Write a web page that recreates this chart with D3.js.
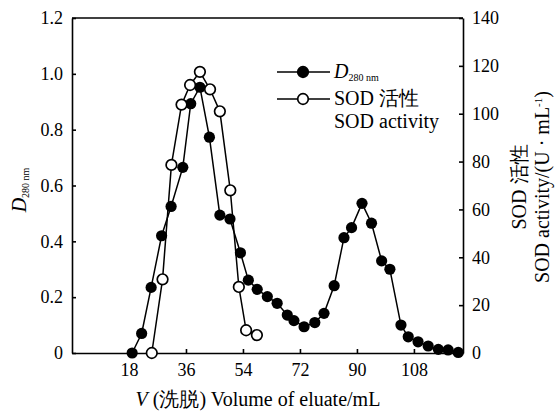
<!DOCTYPE html>
<html>
<head>
<meta charset="utf-8">
<script src="https://cdn.jsdelivr.net/npm/d3@7"></script>
<style>
  body { margin: 0; background: #fff; }
  svg text { font-family: "Liberation Serif", "Times New Roman", serif; fill: #000; }
</style>
</head>
<body>
<svg width="555" height="413"></svg>
<script>
// data
const volD280 = [19, 22, 25, 28.3, 31.3, 35, 37.5, 40.4, 43.4, 46.7, 49.9, 53.2, 55.7, 58.5, 61.7, 64.8, 68, 70.1,
  73.3, 76.7, 79.6, 82.8, 85.9, 88.3, 91.6, 94.6, 97.8, 100.4, 103.9, 106.2, 109.3, 112.5, 115.7, 118.8, 122];
const d280 = [0, 0.07, 0.235, 0.42, 0.525, 0.665, 0.893, 0.952, 0.773, 0.494, 0.48, 0.359, 0.261, 0.228, 0.202, 0.178, 0.136, 0.116,
  0.094, 0.109, 0.142, 0.241, 0.413, 0.449, 0.536, 0.465, 0.33, 0.30, 0.10, 0.058, 0.040, 0.025, 0.013, 0.011, 0.002];

const volSOD = [25.2, 28.6, 31.4, 34.6, 37.3, 40.4, 43.6, 46.7, 50, 52.7, 55, 58.4];
const sod = [0, 30.8, 78.6, 103.8, 112, 117.5, 110.2, 101, 68, 27.6, 9.5, 7.5];

const xTicks = [18, 36, 54, 72, 90, 108];
const leftTicks = [0, 0.2, 0.4, 0.6, 0.8, 1.0, 1.2];
const rightTicks = [0, 20, 40, 60, 80, 100, 120, 140];

const svg = d3.select('svg');
const mLeft = 72, mRight = 463, mTop = 18, mBottom = 353;

const x = d3.scaleLinear().domain([0, 123.5]).range([mLeft, mRight]);
const yL = d3.scaleLinear().domain([0, 1.2]).range([mBottom, mTop]);
const yR = d3.scaleLinear().domain([0, 140]).range([mBottom, mTop]);

//axes, ticks pointing inside the box
const fmtL = d => d === 0 ? '0' : d3.format('.1f')(d);

const gx = svg.append('g')
    .attr('transform', `translate(0,${mBottom})`)
    .call(d3.axisBottom(x).tickValues(xTicks).tickSizeInner(-4).tickSizeOuter(0).tickPadding(10));

const gl = svg.append('g')
    .attr('transform', `translate(${mLeft},0)`)
    .call(d3.axisLeft(yL).tickValues(leftTicks).tickFormat(fmtL).tickSizeInner(-4).tickSizeOuter(0).tickPadding(9));

const gr = svg.append('g')
    .attr('transform', `translate(${mRight},0)`)
    .call(d3.axisRight(yR).tickValues(rightTicks).tickSizeInner(-4).tickSizeOuter(0).tickPadding(9));

[gx, gl, gr].forEach(g => {
    g.attr('font-family', null);
    g.selectAll('path, line').attr('stroke', '#000').attr('stroke-width', 1.6);
    g.selectAll('text').style('font-size', '18px').style('font-family', '"Liberation Serif", serif');
});

//top border of the frame
svg.append('line')
    .attr('x1', mLeft).attr('x2', mRight)
    .attr('y1', mTop).attr('y2', mTop)
    .attr('stroke', '#000').attr('stroke-width', 1.6);

//series
const ptsD = volD280.map((v, i) => [v, d280[i]]);
const ptsS = volSOD.map((v, i) => [v, sod[i]]);

const lineD = d3.line().x(d => x(d[0])).y(d => yL(d[1]));
const lineS = d3.line().x(d => x(d[0])).y(d => yR(d[1]));

svg.append('path')
    .attr('d', lineD(ptsD))
    .attr('fill', 'none').attr('stroke', '#000').attr('stroke-width', 1.5);

svg.append('g').selectAll('circle')
    .data(ptsD)
    .enter()
    .append('circle')
    .attr('cx', d => x(d[0]))
    .attr('cy', d => yL(d[1]))
    .attr('r', 5.6)
    .attr('fill', '#000');

svg.append('path')
    .attr('d', lineS(ptsS))
    .attr('fill', 'none').attr('stroke', '#000').attr('stroke-width', 1.5);

svg.append('g').selectAll('circle')
    .data(ptsS)
    .enter()
    .append('circle')
    .attr('cx', d => x(d[0]))
    .attr('cy', d => yR(d[1]))
    .attr('r', 5.3)
    .attr('fill', '#fff')
    .attr('stroke', '#000')
    .attr('stroke-width', 1.7);

//legend
const leg = svg.append('g');
const legRows = [{y: 72, fill: '#000'}, {y: 99, fill: '#fff'}];
legRows.forEach(r => {
    leg.append('line').attr('x1', 277).attr('x2', 330).attr('y1', r.y).attr('y2', r.y)
        .attr('stroke', '#000').attr('stroke-width', 1.5);
    leg.append('circle').attr('cx', 303).attr('cy', r.y).attr('r', 5.3)
        .attr('fill', r.fill).attr('stroke', '#000').attr('stroke-width', 1.7);
});
const t1 = leg.append('text').attr('x', 334).attr('y', 78).attr('font-size', 20);
t1.append('tspan').attr('font-style', 'italic').text('D');
t1.append('tspan').attr('font-size', 10).attr('dy', 3).text('280 nm');
leg.append('text').attr('x', 334).attr('y', 105).attr('font-size', 20).text('SOD 活性');
leg.append('text').attr('x', 334).attr('y', 128).attr('font-size', 20).text('SOD activity');

//axis titles
const xl = svg.append('text').attr('x', 258).attr('y', 406).attr('font-size', 20).attr('text-anchor', 'middle');
xl.append('tspan').attr('font-style', 'italic').text('V');
xl.append('tspan').text(' (洗脱) Volume of eluate/mL');

const yl = svg.append('text')
    .attr('transform', 'translate(26,190) rotate(-90)')
    .attr('text-anchor', 'middle').attr('font-size', 20);
yl.append('tspan').attr('font-style', 'italic').text('D');
yl.append('tspan').attr('font-size', 10).attr('dy', 3).text('280 nm');

svg.append('text')
    .attr('transform', 'translate(526,187) rotate(-90)')
    .attr('text-anchor', 'middle').attr('font-size', 20)
    .text('SOD 活性');

const yr = svg.append('text')
    .attr('transform', 'translate(549,187) rotate(-90)')
    .attr('text-anchor', 'middle').attr('font-size', 20);
yr.append('tspan').text('SOD activity/(U · mL');
yr.append('tspan').attr('font-size', 11).attr('dy', -7).text('-1');
yr.append('tspan').attr('dy', 7).text(')');
</script>
</body>
</html>
